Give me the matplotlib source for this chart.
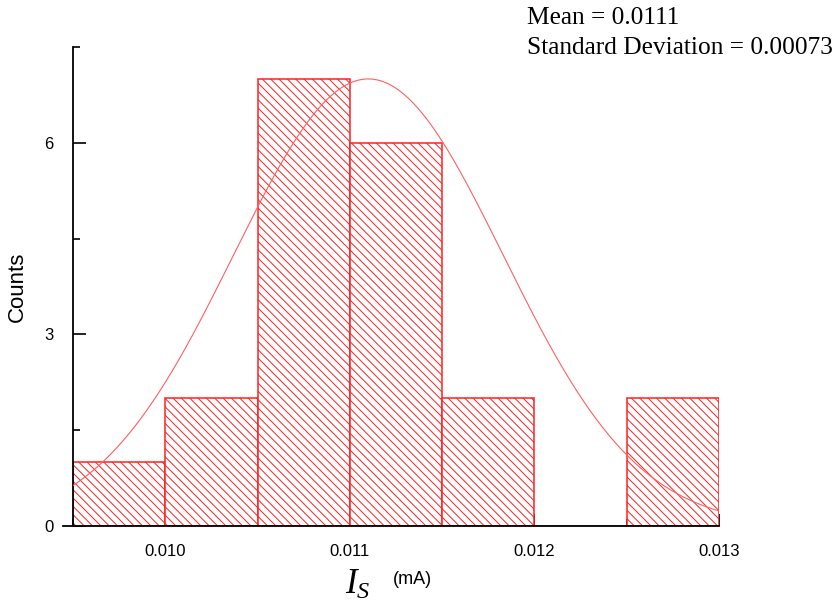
import numpy as np
import matplotlib
matplotlib.use("Agg")
import matplotlib.pyplot as plt
from matplotlib.ticker import MultipleLocator, FixedLocator
from matplotlib.lines import Line2D

# Data
bin_edges = [0.0095, 0.0100, 0.0105, 0.0110, 0.0115, 0.0120, 0.0125, 0.0130]
counts = [1, 2, 7, 6, 2, 0, 2]
mean_val = 0.0111
std_val = 0.00073
curve_peak = 7.0

plt.rcParams['hatch.color'] = '#ff9c9c'
plt.rcParams['hatch.linewidth'] = 0.7
plt.rcParams['mathtext.fontset'] = 'custom'
plt.rcParams['mathtext.it'] = 'Liberation Serif:italic'
plt.rcParams['mathtext.rm'] = 'Liberation Serif'

fig = plt.figure(figsize=(8.4, 6.11), dpi=100)
ax = fig.add_axes([73/840, 1-526/611, (719-73)/840, (526-47)/611])

lefts = bin_edges[:-1]
widths = np.diff(bin_edges)
ax.bar(lefts, counts, width=widths, align='edge', facecolor='white',
       edgecolor='#ff2020', hatch='\\\\\\\\', linewidth=1.1, zorder=2)

xs = np.linspace(bin_edges[0], bin_edges[-1], 400)
ys = curve_peak * np.exp(-0.5 * ((xs - mean_val) / std_val) ** 2)
ax.plot(xs, ys, color='#ff6060', linewidth=0.8, zorder=3)

ax.set_xlim(bin_edges[0], bin_edges[-1])
ax.set_ylim(0, 7.5)
for s in ['top', 'right']:
    ax.spines[s].set_visible(False)
for s in ['left', 'bottom']:
    ax.spines[s].set_linewidth(1.3)

# small extension of the baseline to the left of the y axis
fig.add_artist(Line2D([63/840, 73/840], [1-526/611, 1-526/611],
                      color='black', linewidth=1.3))

ax.xaxis.set_major_locator(FixedLocator([0.010, 0.011, 0.012, 0.013]))
ax.xaxis.set_minor_locator(MultipleLocator(0.0005))
ax.yaxis.set_major_locator(FixedLocator([0, 3, 6]))
ax.yaxis.set_minor_locator(MultipleLocator(1.5))
ax.set_xticklabels(['0.010', '0.011', '0.012', '0.013'])
ax.tick_params(axis='both', which='both', direction='in', width=1.2,
               labelsize=12, labelfontfamily='Liberation Sans')
ax.tick_params(axis='both', which='major', length=9)
ax.tick_params(axis='both', which='minor', length=5)
ax.tick_params(axis='x', which='major', pad=13)
ax.tick_params(axis='y', which='major', pad=14)

ax.set_ylabel('Counts', fontsize=16, family='Liberation Sans', labelpad=12)

fig.text(358/840, 1-584/611, r'$I_S$', fontsize=25, ha='center', va='center')
fig.text(412/840, 1-579/611, '(mA)', fontsize=13, family='Liberation Sans',
         ha='center', va='center')

fig.text(527/840, 1-18/611, 'Mean = 0.0111', fontsize=18.3,
         family='Liberation Serif', ha='left', va='center')
fig.text(527/840, 1-48/611, 'Standard Deviation = 0.00073', fontsize=18.3,
         family='Liberation Serif', ha='left', va='center')

fig.savefig('out.png', dpi=100)
